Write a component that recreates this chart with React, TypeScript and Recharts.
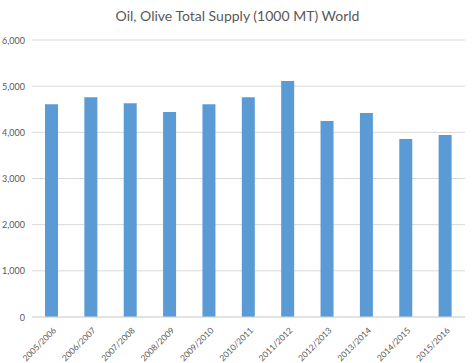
import { BarChart, Bar, XAxis, YAxis, CartesianGrid } from 'recharts';

const seasons = [
  '2005/2006', '2006/2007', '2007/2008', '2008/2009', '2009/2010', '2010/2011',
  '2011/2012', '2012/2013', '2013/2014', '2014/2015', '2015/2016',
];
const supply = [4610, 4760, 4630, 4440, 4610, 4760, 5110, 4245, 4420, 3855, 3940];
const yTicks = [0, 1000, 2000, 3000, 4000, 5000, 6000];

const data = seasons.map((season, i) => ({ season, supply: supply[i] }));

const FONT = 'Lato, "Liberation Sans", sans-serif';
const GREY_TEXT = '#595959';

function SeasonTick(props: any) {
  const { x, y, payload } = props;
  return (
    <g transform={`translate(${x + 3},${y + 4})`}>
      <text
        transform="rotate(-45)"
        textAnchor="end"
        dominantBaseline="central"
        fontSize={8.5}
        fontFamily={FONT}
        fill={GREY_TEXT}
      >
        {payload.value}
      </text>
    </g>
  );
}

function ValueTick(props: any) {
  const { y, payload } = props;
  return (
    <text
      x={25}
      y={y}
      textAnchor="end"
      dominantBaseline="central"
      fontSize={9}
      fontFamily={FONT}
      fill={GREY_TEXT}
    >
      {payload.value.toLocaleString('en-US')}
    </text>
  );
}

export default function App() {
  return (
    <div style={{ position: 'absolute', left: 0, top: 0, width: 475, height: 363, background: '#fff' }}>
      <div
        style={{
          position: 'absolute',
          top: 7,
          left: 0,
          width: 475,
          textAlign: 'center',
          fontFamily: FONT,
          fontSize: 14,
          color: GREY_TEXT,
        }}
      >
        Oil, Olive Total Supply (1000 MT) World
      </div>
      <BarChart
        width={475}
        height={363}
        data={data}
        margin={{ top: 40, right: 10, bottom: 0, left: 0 }}
        barCategoryGap="33%"
      >
        <CartesianGrid vertical={false} stroke="#d9d9d9" strokeWidth={1} />
        <XAxis
          dataKey="season"
          interval={0}
          height={46}
          tickLine={false}
          axisLine={{ stroke: '#d9d9d9' }}
          tick={<SeasonTick />}
        />
        <YAxis
          width={32}
          domain={[0, 6000]}
          ticks={yTicks}
          tickLine={false}
          axisLine={false}
          tick={<ValueTick />}
        />
        <Bar dataKey="supply" fill="#5b9bd5" isAnimationActive={false} />
      </BarChart>
    </div>
  );
}
